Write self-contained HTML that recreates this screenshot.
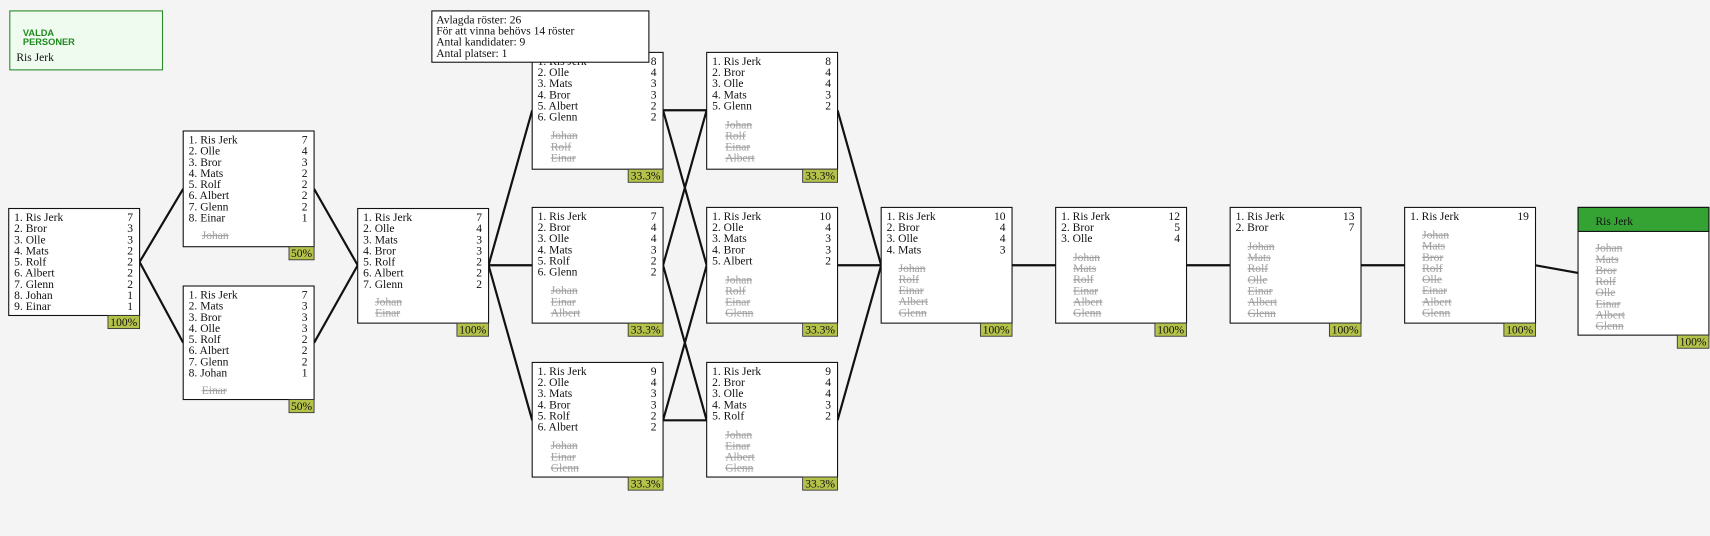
<!DOCTYPE html>
<html><head><meta charset="utf-8"><style>
html,body{margin:0;padding:0;background:#f4f4f4;}
svg{display:block}
text{font-family:"Liberation Serif",serif;font-size:10.6px;fill:#111}
.s{fill:#a0a0a0;text-decoration:line-through}
.n{text-anchor:end}
.b{fill:#fff;stroke:#111;stroke-width:1}
.g{fill:#b4c24a;stroke:#333;stroke-width:0.8}
.l{stroke:#111;stroke-width:2;fill:none}
</style></head><body>
<svg width="1710" height="536" viewBox="0 0 1568 491" preserveAspectRatio="none" xmlns="http://www.w3.org/2000/svg">
<rect width="1568" height="491" fill="#f4f4f4"/>
<path class="l" d="M128 240L168 173M128 240L168 314M288 173L328 243M288 314L328 243M448 243L488 101M448 243L488 243M448 243L488 385
M608 101L648 101M608 101L648 243M608 243L648 101M608 243L648 385M608 385L648 243M608 385L648 385
M768 101L808 243M768 243L808 243M768 385L808 243M928 243L968 243M1088 243L1128 243M1248 243L1288 243M1408 243L1447 250"/>

<rect x="9" y="10" width="140" height="54" fill="#f0fbf0" stroke="#2a8a2a" stroke-width="1"/>
<text x="21" y="33" style="font-family:'Liberation Sans',sans-serif;font-size:8.5px;font-weight:bold;fill:#1f8a1f">VALDA</text>
<text x="21" y="41" style="font-family:'Liberation Sans',sans-serif;font-size:8.5px;font-weight:bold;fill:#1f8a1f">PERSONER</text>
<text x="15" y="56">Ris Jerk</text>

<rect class="b" x="8" y="191" width="120" height="98"/>
<rect class="g" x="99" y="289" width="29" height="12"/><text x="113.5" y="298.5" style="text-anchor:middle">100%</text>
<text x="13" y="202.5"><tspan x="13">1. Ris Jerk</tspan><tspan x="13" dy="10.2">2. Bror</tspan><tspan x="13" dy="10.2">3. Olle</tspan><tspan x="13" dy="10.2">4. Mats</tspan><tspan x="13" dy="10.2">5. Rolf</tspan><tspan x="13" dy="10.2">6. Albert</tspan><tspan x="13" dy="10.2">7. Glenn</tspan><tspan x="13" dy="10.2">8. Johan</tspan><tspan x="13" dy="10.2">9. Einar</tspan></text>
<text class="n" x="122" y="202.5"><tspan x="122">7</tspan><tspan x="122" dy="10.2">3</tspan><tspan x="122" dy="10.2">3</tspan><tspan x="122" dy="10.2">2</tspan><tspan x="122" dy="10.2">2</tspan><tspan x="122" dy="10.2">2</tspan><tspan x="122" dy="10.2">2</tspan><tspan x="122" dy="10.2">1</tspan><tspan x="122" dy="10.2">1</tspan></text>

<rect class="b" x="168" y="120" width="120" height="106"/>
<rect class="g" x="265" y="226" width="23" height="12"/><text x="276.5" y="235.5" style="text-anchor:middle">50%</text>
<text x="173" y="131.5"><tspan x="173">1. Ris Jerk</tspan><tspan x="173" dy="10.2">2. Olle</tspan><tspan x="173" dy="10.2">3. Bror</tspan><tspan x="173" dy="10.2">4. Mats</tspan><tspan x="173" dy="10.2">5. Rolf</tspan><tspan x="173" dy="10.2">6. Albert</tspan><tspan x="173" dy="10.2">7. Glenn</tspan><tspan x="173" dy="10.2">8. Einar</tspan></text>
<text class="n" x="282" y="131.5"><tspan x="282">7</tspan><tspan x="282" dy="10.2">4</tspan><tspan x="282" dy="10.2">3</tspan><tspan x="282" dy="10.2">2</tspan><tspan x="282" dy="10.2">2</tspan><tspan x="282" dy="10.2">2</tspan><tspan x="282" dy="10.2">2</tspan><tspan x="282" dy="10.2">1</tspan></text>
<text class="s" x="185" y="218.9">Johan</text>

<rect class="b" x="168" y="262" width="120" height="104"/>
<rect class="g" x="265" y="366" width="23" height="12"/><text x="276.5" y="375.5" style="text-anchor:middle">50%</text>
<text x="173" y="273.5"><tspan x="173">1. Ris Jerk</tspan><tspan x="173" dy="10.2">2. Mats</tspan><tspan x="173" dy="10.2">3. Bror</tspan><tspan x="173" dy="10.2">4. Olle</tspan><tspan x="173" dy="10.2">5. Rolf</tspan><tspan x="173" dy="10.2">6. Albert</tspan><tspan x="173" dy="10.2">7. Glenn</tspan><tspan x="173" dy="10.2">8. Johan</tspan></text>
<text class="n" x="282" y="273.5"><tspan x="282">7</tspan><tspan x="282" dy="10.2">3</tspan><tspan x="282" dy="10.2">3</tspan><tspan x="282" dy="10.2">3</tspan><tspan x="282" dy="10.2">2</tspan><tspan x="282" dy="10.2">2</tspan><tspan x="282" dy="10.2">2</tspan><tspan x="282" dy="10.2">1</tspan></text>
<text class="s" x="185" y="360.9">Einar</text>

<rect class="b" x="328" y="191" width="120" height="105"/>
<rect class="g" x="419" y="296" width="29" height="12"/><text x="433.5" y="305.5" style="text-anchor:middle">100%</text>
<text x="333" y="202.5"><tspan x="333">1. Ris Jerk</tspan><tspan x="333" dy="10.2">2. Olle</tspan><tspan x="333" dy="10.2">3. Mats</tspan><tspan x="333" dy="10.2">4. Bror</tspan><tspan x="333" dy="10.2">5. Rolf</tspan><tspan x="333" dy="10.2">6. Albert</tspan><tspan x="333" dy="10.2">7. Glenn</tspan></text>
<text class="n" x="442" y="202.5"><tspan x="442">7</tspan><tspan x="442" dy="10.2">4</tspan><tspan x="442" dy="10.2">3</tspan><tspan x="442" dy="10.2">3</tspan><tspan x="442" dy="10.2">2</tspan><tspan x="442" dy="10.2">2</tspan><tspan x="442" dy="10.2">2</tspan></text>
<text class="s" x="344" y="279.7"><tspan x="344">Johan</tspan><tspan x="344" dy="10.2">Einar</tspan></text>

<rect class="b" x="488" y="48" width="120" height="107"/>
<rect class="g" x="576" y="155" width="32" height="12"/><text x="592" y="164.5" style="text-anchor:middle">33.3%</text>
<text x="493" y="59.5"><tspan x="493">1. Ris Jerk</tspan><tspan x="493" dy="10.2">2. Olle</tspan><tspan x="493" dy="10.2">3. Mats</tspan><tspan x="493" dy="10.2">4. Bror</tspan><tspan x="493" dy="10.2">5. Albert</tspan><tspan x="493" dy="10.2">6. Glenn</tspan></text>
<text class="n" x="602" y="59.5"><tspan x="602">8</tspan><tspan x="602" dy="10.2">4</tspan><tspan x="602" dy="10.2">3</tspan><tspan x="602" dy="10.2">3</tspan><tspan x="602" dy="10.2">2</tspan><tspan x="602" dy="10.2">2</tspan></text>
<text class="s" x="505" y="127.5"><tspan x="505">Johan</tspan><tspan x="505" dy="10.2">Rolf</tspan><tspan x="505" dy="10.2">Einar</tspan></text>

<rect class="b" x="488" y="190" width="120" height="106"/>
<rect class="g" x="576" y="296" width="32" height="12"/><text x="592" y="305.5" style="text-anchor:middle">33.3%</text>
<text x="493" y="201.5"><tspan x="493">1. Ris Jerk</tspan><tspan x="493" dy="10.2">2. Bror</tspan><tspan x="493" dy="10.2">3. Olle</tspan><tspan x="493" dy="10.2">4. Mats</tspan><tspan x="493" dy="10.2">5. Rolf</tspan><tspan x="493" dy="10.2">6. Glenn</tspan></text>
<text class="n" x="602" y="201.5"><tspan x="602">7</tspan><tspan x="602" dy="10.2">4</tspan><tspan x="602" dy="10.2">4</tspan><tspan x="602" dy="10.2">3</tspan><tspan x="602" dy="10.2">2</tspan><tspan x="602" dy="10.2">2</tspan></text>
<text class="s" x="505" y="269.5"><tspan x="505">Johan</tspan><tspan x="505" dy="10.2">Einar</tspan><tspan x="505" dy="10.2">Albert</tspan></text>

<rect class="b" x="488" y="332" width="120" height="105"/>
<rect class="g" x="576" y="437" width="32" height="12"/><text x="592" y="446.5" style="text-anchor:middle">33.3%</text>
<text x="493" y="343.5"><tspan x="493">1. Ris Jerk</tspan><tspan x="493" dy="10.2">2. Olle</tspan><tspan x="493" dy="10.2">3. Mats</tspan><tspan x="493" dy="10.2">4. Bror</tspan><tspan x="493" dy="10.2">5. Rolf</tspan><tspan x="493" dy="10.2">6. Albert</tspan></text>
<text class="n" x="602" y="343.5"><tspan x="602">9</tspan><tspan x="602" dy="10.2">4</tspan><tspan x="602" dy="10.2">3</tspan><tspan x="602" dy="10.2">3</tspan><tspan x="602" dy="10.2">2</tspan><tspan x="602" dy="10.2">2</tspan></text>
<text class="s" x="505" y="411.5"><tspan x="505">Johan</tspan><tspan x="505" dy="10.2">Einar</tspan><tspan x="505" dy="10.2">Glenn</tspan></text>

<rect class="b" x="648" y="48" width="120" height="107"/>
<rect class="g" x="736" y="155" width="32" height="12"/><text x="752" y="164.5" style="text-anchor:middle">33.3%</text>
<text x="653" y="59.5"><tspan x="653">1. Ris Jerk</tspan><tspan x="653" dy="10.2">2. Bror</tspan><tspan x="653" dy="10.2">3. Olle</tspan><tspan x="653" dy="10.2">4. Mats</tspan><tspan x="653" dy="10.2">5. Glenn</tspan></text>
<text class="n" x="762" y="59.5"><tspan x="762">8</tspan><tspan x="762" dy="10.2">4</tspan><tspan x="762" dy="10.2">4</tspan><tspan x="762" dy="10.2">3</tspan><tspan x="762" dy="10.2">2</tspan></text>
<text class="s" x="665" y="117.5"><tspan x="665">Johan</tspan><tspan x="665" dy="10.2">Rolf</tspan><tspan x="665" dy="10.2">Einar</tspan><tspan x="665" dy="10.2">Albert</tspan></text>

<rect class="b" x="648" y="190" width="120" height="106"/>
<rect class="g" x="736" y="296" width="32" height="12"/><text x="752" y="305.5" style="text-anchor:middle">33.3%</text>
<text x="653" y="201.5"><tspan x="653">1. Ris Jerk</tspan><tspan x="653" dy="10.2">2. Olle</tspan><tspan x="653" dy="10.2">3. Mats</tspan><tspan x="653" dy="10.2">4. Bror</tspan><tspan x="653" dy="10.2">5. Albert</tspan></text>
<text class="n" x="762" y="201.5"><tspan x="762">10</tspan><tspan x="762" dy="10.2">4</tspan><tspan x="762" dy="10.2">3</tspan><tspan x="762" dy="10.2">3</tspan><tspan x="762" dy="10.2">2</tspan></text>
<text class="s" x="665" y="259.5"><tspan x="665">Johan</tspan><tspan x="665" dy="10.2">Rolf</tspan><tspan x="665" dy="10.2">Einar</tspan><tspan x="665" dy="10.2">Glenn</tspan></text>

<rect class="b" x="648" y="332" width="120" height="105"/>
<rect class="g" x="736" y="437" width="32" height="12"/><text x="752" y="446.5" style="text-anchor:middle">33.3%</text>
<text x="653" y="343.5"><tspan x="653">1. Ris Jerk</tspan><tspan x="653" dy="10.2">2. Bror</tspan><tspan x="653" dy="10.2">3. Olle</tspan><tspan x="653" dy="10.2">4. Mats</tspan><tspan x="653" dy="10.2">5. Rolf</tspan></text>
<text class="n" x="762" y="343.5"><tspan x="762">9</tspan><tspan x="762" dy="10.2">4</tspan><tspan x="762" dy="10.2">4</tspan><tspan x="762" dy="10.2">3</tspan><tspan x="762" dy="10.2">2</tspan></text>
<text class="s" x="665" y="401.5"><tspan x="665">Johan</tspan><tspan x="665" dy="10.2">Einar</tspan><tspan x="665" dy="10.2">Albert</tspan><tspan x="665" dy="10.2">Glenn</tspan></text>

<rect class="b" x="808" y="190" width="120" height="106"/>
<rect class="g" x="899" y="296" width="29" height="12"/><text x="913.5" y="305.5" style="text-anchor:middle">100%</text>
<text x="813" y="201.5"><tspan x="813">1. Ris Jerk</tspan><tspan x="813" dy="10.2">2. Bror</tspan><tspan x="813" dy="10.2">3. Olle</tspan><tspan x="813" dy="10.2">4. Mats</tspan></text>
<text class="n" x="922" y="201.5"><tspan x="922">10</tspan><tspan x="922" dy="10.2">4</tspan><tspan x="922" dy="10.2">4</tspan><tspan x="922" dy="10.2">3</tspan></text>
<text class="s" x="824" y="249"><tspan x="824">Johan</tspan><tspan x="824" dy="10.2">Rolf</tspan><tspan x="824" dy="10.2">Einar</tspan><tspan x="824" dy="10.2">Albert</tspan><tspan x="824" dy="10.2">Glenn</tspan></text>

<rect class="b" x="968" y="190" width="120" height="106"/>
<rect class="g" x="1059" y="296" width="29" height="12"/><text x="1073.5" y="305.5" style="text-anchor:middle">100%</text>
<text x="973" y="201.5"><tspan x="973">1. Ris Jerk</tspan><tspan x="973" dy="10.2">2. Bror</tspan><tspan x="973" dy="10.2">3. Olle</tspan></text>
<text class="n" x="1082" y="201.5"><tspan x="1082">12</tspan><tspan x="1082" dy="10.2">5</tspan><tspan x="1082" dy="10.2">4</tspan></text>
<text class="s" x="984" y="239"><tspan x="984">Johan</tspan><tspan x="984" dy="10.2">Mats</tspan><tspan x="984" dy="10.2">Rolf</tspan><tspan x="984" dy="10.2">Einar</tspan><tspan x="984" dy="10.2">Albert</tspan><tspan x="984" dy="10.2">Glenn</tspan></text>

<rect class="b" x="1128" y="190" width="120" height="106"/>
<rect class="g" x="1219" y="296" width="29" height="12"/><text x="1233.5" y="305.5" style="text-anchor:middle">100%</text>
<text x="1133" y="201.5"><tspan x="1133">1. Ris Jerk</tspan><tspan x="1133" dy="10.2">2. Bror</tspan></text>
<text class="n" x="1242" y="201.5"><tspan x="1242">13</tspan><tspan x="1242" dy="10.2">7</tspan></text>
<text class="s" x="1144" y="229"><tspan x="1144">Johan</tspan><tspan x="1144" dy="10.2">Mats</tspan><tspan x="1144" dy="10.2">Rolf</tspan><tspan x="1144" dy="10.2">Olle</tspan><tspan x="1144" dy="10.2">Einar</tspan><tspan x="1144" dy="10.2">Albert</tspan><tspan x="1144" dy="10.2">Glenn</tspan></text>

<rect class="b" x="1288" y="190" width="120" height="106"/>
<rect class="g" x="1379" y="296" width="29" height="12"/><text x="1393.5" y="305.5" style="text-anchor:middle">100%</text>
<text x="1293" y="201.5">1. Ris Jerk</text>
<text class="n" x="1402" y="201.5">19</text>
<text class="s" x="1304" y="218.5"><tspan x="1304">Johan</tspan><tspan x="1304" dy="10.2">Mats</tspan><tspan x="1304" dy="10.2">Bror</tspan><tspan x="1304" dy="10.2">Rolf</tspan><tspan x="1304" dy="10.2">Olle</tspan><tspan x="1304" dy="10.2">Einar</tspan><tspan x="1304" dy="10.2">Albert</tspan><tspan x="1304" dy="10.2">Glenn</tspan></text>

<rect class="b" x="1447" y="190" width="120" height="117"/>
<rect x="1447" y="190" width="120" height="22" fill="#34a334" stroke="#111" stroke-width="1"/>
<rect class="g" x="1538" y="307" width="29" height="12"/><text x="1552.5" y="316.5" style="text-anchor:middle">100%</text>
<text x="1463" y="206">Ris Jerk</text>
<text class="s" x="1463" y="230.5"><tspan x="1463">Johan</tspan><tspan x="1463" dy="10.2">Mats</tspan><tspan x="1463" dy="10.2">Bror</tspan><tspan x="1463" dy="10.2">Rolf</tspan><tspan x="1463" dy="10.2">Olle</tspan><tspan x="1463" dy="10.2">Einar</tspan><tspan x="1463" dy="10.2">Albert</tspan><tspan x="1463" dy="10.2">Glenn</tspan></text>

<rect class="b" x="396" y="10" width="199" height="47"/>
<text x="400" y="21.5"><tspan x="400">Avlagda röster: 26</tspan><tspan x="400" dy="10.2">För att vinna behövs 14 röster</tspan><tspan x="400" dy="10.2">Antal kandidater: 9</tspan><tspan x="400" dy="10.2">Antal platser: 1</tspan></text>
</svg>
</body></html>
